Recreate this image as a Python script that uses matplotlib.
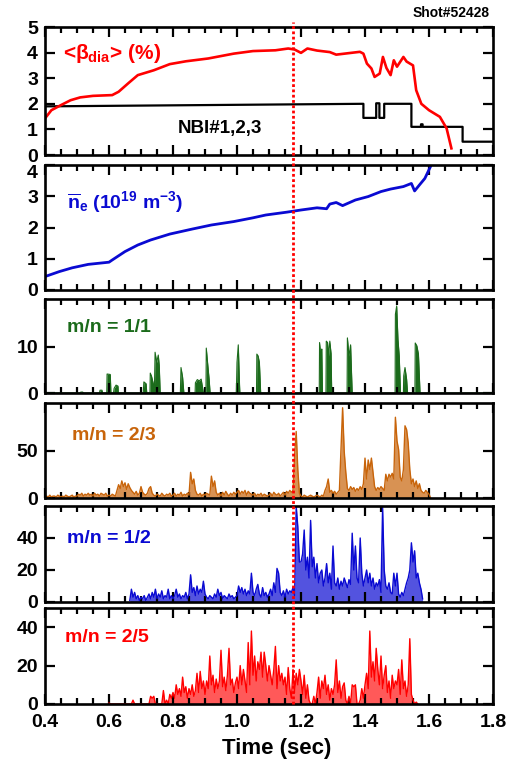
import numpy as np
import matplotlib
matplotlib.use('Agg')
import matplotlib.pyplot as plt
from matplotlib.lines import Line2D
from matplotlib.ticker import MultipleLocator
import matplotlib.transforms as mtransforms

plt.rcParams['font.family'] = ['Liberation Sans', 'DejaVu Sans']
plt.rcParams['font.weight'] = 'bold'
plt.rcParams['mathtext.fontset'] = 'custom'
for k in ['rm', 'it', 'bf', 'sf']:
    plt.rcParams['mathtext.' + k] = 'Liberation Sans:bold'

T_MARK = 1.175

# --- panel 1: diamagnetic beta and NBI power
t_beta = [0.40, 0.42, 0.45, 0.48, 0.51, 0.55, 0.61, 0.63, 0.66, 0.69, 0.74, 0.79, 0.84, 0.91, 0.99,
          1.05, 1.12, 1.16, 1.18, 1.20, 1.22, 1.25, 1.29, 1.31, 1.35, 1.384, 1.395, 1.406, 1.42, 1.43,
          1.446, 1.456, 1.467, 1.48, 1.49, 1.50, 1.52, 1.53, 1.55, 1.56, 1.576, 1.60, 1.634, 1.655, 1.67]
beta = [1.43, 1.75, 1.95, 2.14, 2.25, 2.31, 2.34, 2.47, 2.80, 3.12, 3.31, 3.55, 3.66, 3.77, 3.96,
        4.06, 4.09, 4.16, 4.12, 3.99, 4.16, 4.08, 4.02, 3.92, 3.98, 4.03, 3.96, 3.57, 3.38, 3.05,
        3.18, 3.83, 3.40, 3.12, 3.70, 3.45, 3.83, 3.65, 3.50, 2.53, 2.00, 1.75, 1.49, 1.04, 0.26]
t_nbi = [0.40, 1.395, 1.395, 1.435, 1.435, 1.445, 1.445, 1.46, 1.46, 1.545, 1.545,
         1.575, 1.575, 1.58, 1.58, 1.705, 1.705, 1.80]
nbi = [1.90, 2.00, 1.45, 1.45, 2.02, 2.02, 1.45, 1.45, 2.00, 2.00, 1.10,
       1.10, 1.20, 1.20, 1.10, 1.10, 0.52, 0.52]

# --- panel 2: line-averaged density
t_ne = [0.40, 0.445, 0.485, 0.535, 0.60, 0.61, 0.65, 0.69, 0.73, 0.79, 0.86, 0.92, 0.99, 1.05,
        1.09, 1.155, 1.20, 1.25, 1.28, 1.29, 1.31, 1.33, 1.37, 1.41, 1.45, 1.48, 1.52, 1.545,
        1.555, 1.57, 1.587, 1.608]
ne = [0.43, 0.59, 0.71, 0.82, 0.89, 0.96, 1.23, 1.44, 1.60, 1.79, 1.95, 2.08, 2.19, 2.31,
      2.40, 2.49, 2.56, 2.63, 2.60, 2.75, 2.80, 2.70, 2.88, 2.99, 3.15, 3.23, 3.31, 3.41,
      3.17, 3.36, 3.57, 4.02]

# --- panel 3: m/n = 1/1 bursts
t11 = [0.400, 0.509, 0.512, 0.518, 0.520, 0.570, 0.572, 0.578, 0.580, 0.593, 0.594, 0.604, 0.606,
       0.614, 0.616, 0.622, 0.628, 0.629, 0.707, 0.709, 0.716, 0.718, 0.728, 0.729, 0.733, 0.742,
       0.744, 0.749, 0.754, 0.757, 0.760, 0.823, 0.825, 0.830, 0.834, 0.869, 0.870, 0.876, 0.882,
       0.888, 0.895, 0.903, 0.904, 0.908, 0.913, 0.916, 0.998, 1.000, 1.004, 1.008, 1.009, 1.061,
       1.062, 1.066, 1.070, 1.074, 1.257, 1.258, 1.262, 1.265, 1.267, 1.278, 1.279, 1.283, 1.286,
       1.290, 1.294, 1.296, 1.344, 1.345, 1.350, 1.355, 1.360, 1.494, 1.495, 1.499, 1.503, 1.507,
       1.511, 1.520, 1.521, 1.525, 1.530, 1.533, 1.556, 1.557, 1.562, 1.567, 1.572, 1.800]
m11 = [0.0, 0.0, 0.2, 0.2, 0.0, 0.0, 0.6, 0.6, 0.0, 0.0, 4.1, 4.0, 0.0,
       0.0, 1.0, 1.7, 1.5, 0.0, 0.0, 2.4, 2.0, 0.0, 0.0, 4.3, 3.6, 1.0,
       8.8, 6.6, 8.2, 6.0, 0.0, 0.0, 5.5, 3.4, 0.0, 0.0, 2.2, 2.9, 2.6,
       3.0, 0.0, 0.0, 9.7, 6.6, 2.9, 0.0, 0.0, 6.6, 10.4, 1.6, 0.0, 0.0,
       8.4, 8.0, 6.6, 0.0, 0.0, 10.9, 8.1, 9.5, 0.0, 0.0, 11.2, 10.9, 8.0,
       11.2, 8.5, 0.0, 0.0, 11.9, 8.0, 10.4, 0.0, 0.0, 17.0, 18.8, 11.6, 8.0,
       0.0, 0.0, 3.7, 5.5, 3.0, 0.0, 0.0, 10.8, 10.2, 8.4, 0.0, 0.0]

# --- panel 4: m/n = 2/3, sampled every 5 ms from 0.400 s
T23_START = 0.400
m23 = [1, 2, 1, 3, 1, 2, 2, 1, 3, 2, 1, 2, 1, 3, 2, 1, 2, 3, 1, 2,
       2, 4, 3, 5, 2, 4, 3, 5, 3, 4, 2, 5, 3, 4, 2, 5, 4, 3, 5, 2,
       3, 2, 4, 3, 2, 8, 14, 10, 18, 12, 16, 9, 15, 11, 8, 6, 4, 7, 3, 5,
       12, 6, 4, 3, 5, 10, 12, 5, 3, 2, 4, 3, 2, 5, 3, 2, 4, 3, 5, 2,
       3, 5, 2, 4, 3, 6, 2, 4, 3, 5, 3, 27, 15, 20, 8, 4, 3, 5, 2, 4,
       3, 5, 4, 3, 23, 12, 18, 6, 3, 5, 2, 6, 3, 7, 4, 2, 5, 3, 6, 4,
       6, 8, 4, 7, 5, 8, 3, 7, 5, 4, 3, 5, 2, 4, 3, 5, 2, 4, 3, 2,
       3, 5, 2, 6, 4, 3, 5, 2, 4, 6, 3, 7, 5, 8, 6, 8, 45, 70, 30, 5,
       2, 1, 3, 2, 1, 2, 3, 2, 1, 2, 3, 2, 1, 3, 2, 8, 12, 20, 6, 8,
       5, 7, 4, 6, 8, 51, 95, 49, 27, 10, 8, 12, 9, 11, 7, 10, 8, 12, 9, 15,
       42, 20, 40, 30, 42, 27, 12, 8, 11, 9, 12, 10, 8, 25, 18, 25, 22, 26, 20, 85,
       60, 51, 22, 18, 30, 76, 72, 58, 30, 15, 20, 12, 18, 10, 15, 8, 6, 5, 8, 6,
       4, 0]

# --- panel 5: m/n = 1/2, sampled every 5 ms from 0.665 s
T12_START = 0.665
m12 = [1, 8, 3, 6, 2, 4, 1,
       3, 2, 4, 1, 3, 5, 2, 6, 3, 8, 2, 5, 3, 7, 2, 4, 3, 8, 2, 4,
       2, 4, 8, 3, 5, 2, 4, 3, 6, 2, 5, 17, 6, 9, 4, 10, 5, 8, 6, 13,
       5, 3, 2, 4, 3, 2, 5, 3, 8, 4, 6, 2, 4, 3, 2, 5, 3, 4, 2, 3,
       4, 10, 6, 9, 5, 8, 4, 7, 5, 18, 6, 4, 8, 11, 5, 3, 9, 4, 6, 3,
       5, 8, 4, 12, 6, 21, 18, 6, 4, 7, 3, 8, 5, 7, 6, 9, 4, 60, 47, 25,
       25, 30, 45, 20, 28, 15, 51, 22, 28, 15, 24, 12, 18, 20, 10, 15, 24, 12, 18, 8,
       35, 12, 10, 15, 8, 13, 10, 15, 12, 9, 14, 11, 43, 20, 35, 15, 12, 40, 18, 10,
       15, 20, 12, 18, 10, 15, 8, 12, 10, 14, 6, 59, 20, 10, 8, 12, 6, 5, 18, 10,
       18, 5, 3, 6, 4, 8, 12, 15, 20, 37, 25, 32, 15, 18, 12, 8, 2]

# --- panel 6: m/n = 2/5, sampled every 5 ms from 0.600 s
T25_START = 0.600
m25 = [0.5, 0, 0, 0, 0, 0, 0, 0, 0, 0, 0, 0, 0, 0, 0, 2, 0, 0, 0, 0,
       0, 0, 0, 0, 0, 0, 4, 3, 4, 0, 0, 0, 0, 0, 7, 0, 2, 0, 5, 3,
       6, 3, 10, 5, 8, 4, 14, 6, 9, 3, 8, 5, 10, 4, 7, 16, 6, 17, 8, 12,
       5, 12, 8, 25, 10, 15, 6, 13, 8, 12, 28, 9, 14, 7, 15, 29, 10, 13, 6, 11,
       14, 8, 20, 10, 18, 12, 6, 32, 10, 38, 15, 25, 12, 22, 18, 27, 14, 27, 20, 12,
       20, 15, 10, 18, 30, 8, 20, 12, 16, 10, 14, 5, 19, 8, 3, 18, 6, 16, 10, 18,
       12, 5, 15, 3, 10, 2, 0, 0, 4, 0, 6, 14, 3, 12, 8, 15, 5, 10, 2, 8,
       5, 10, 23, 6, 12, 3, 9, 11, 2, 0, 4, 0, 10, 9, 10, 0, 0, 2, 8, 3,
       10, 16, 8, 38, 14, 22, 12, 29, 18, 10, 25, 8, 15, 20, 6, 12, 3, 15, 8, 12,
       10, 18, 5, 23, 8, 12, 4, 10, 34, 5, 2, 0, 1, 0]
DT = 0.005

C_GREEN = '#1b6b1b'
C_ORANGE = '#c8640a'
C_BLUE = '#0a0ad2'
C_RED = '#ff0000'

fig = plt.figure(figsize=(5.15, 7.6), dpi=100)
W, H = 515.0, 760.0
left, width = 45 / W, 448 / W
# (top px, bottom px) of each panel
rows = [(27, 155), (165, 290), (299, 393), (403, 498), (506, 602), (608, 704)]
axes = [fig.add_axes([left, 1 - b / H, width, (b - t) / H]) for t, b in rows]

for ax in axes:
    ax.set_xlim(0.4, 1.8)
    ax.xaxis.set_major_locator(MultipleLocator(0.2))
    ax.xaxis.set_minor_locator(MultipleLocator(0.05))
    ax.tick_params(which='both', direction='in', top=True, right=True, labelsize=14)
    ax.tick_params(axis='y', pad=5)
    ax.tick_params(axis='x', pad=7)
    ax.tick_params(which='major', length=7, width=1.6)
    ax.tick_params(which='minor', length=4.5, width=1.6)
    for s in ax.spines.values():
        s.set_linewidth(1.9)
    if ax is not axes[-1]:
        ax.tick_params(labelbottom=False)

ax1, ax2, ax3, ax4, ax5, ax6 = axes

ax1.plot(t_nbi, nbi, color='black', lw=1.6)
ax1.plot(t_beta, beta, color=C_RED, lw=1.9)
ax1.set_ylim(0, 5)
ax1.set_yticks(range(6))
ax1.text(0.04, 0.79, r'<$\beta_{\rm dia}$> (%)', color=C_RED, fontsize=15, transform=ax1.transAxes, va='center')
ax1.text(0.297, 0.21, 'NBI#1,2,3', color='black', fontsize=13.5, transform=ax1.transAxes, va='center')

ax2.plot(t_ne, ne, color=C_BLUE, lw=2.0)
ax2.set_ylim(0, 4)
ax2.set_yticks(range(5))
ax2.get_yticklabels()[-1].set_verticalalignment('top')
ax2.text(0.05, 0.70, r'$\overline{n}_{e}$ (10$^{19}$ m$^{-3}$)', color=C_BLUE, fontsize=14,
         transform=ax2.transAxes, va='center')

ax3.fill_between(t11, 0, m11, color=C_GREEN, lw=0)
ax3.plot(t11, m11, color=C_GREEN, lw=0.8)
ax3.set_ylim(0, 20.3)
ax3.set_yticks([0, 10])
ax3.text(0.05, 0.70, 'm/n = 1/1', color=C_GREEN, fontsize=14, transform=ax3.transAxes, va='center')

t23 = T23_START + DT * np.arange(len(m23))
ax4.fill_between(t23, 0, m23, color=C_ORANGE, alpha=0.7, lw=0)
ax4.plot(t23, m23, color=C_ORANGE, lw=1.0)
ax4.set_ylim(0, 100)
ax4.set_yticks([0, 50])
ax4.text(0.06, 0.66, 'm/n = 2/3', color=C_ORANGE, fontsize=14, transform=ax4.transAxes, va='center')

t12 = T12_START + DT * np.arange(len(m12))
ax5.fill_between(t12, 0, m12, color=C_BLUE, alpha=0.7, lw=0)
ax5.plot(t12, m12, color=C_BLUE, lw=1.0)
ax5.set_ylim(0, 60)
ax5.set_yticks([0, 20, 40])
ax5.text(0.05, 0.66, 'm/n = 1/2', color=C_BLUE, fontsize=14, transform=ax5.transAxes, va='center')

t25 = T25_START + DT * np.arange(len(m25))
ax6.fill_between(t25, 0, m25, color=C_RED, alpha=0.65, lw=0)
ax6.plot(t25, m25, color=C_RED, lw=1.0)
ax6.set_ylim(0, 50)
ax6.set_yticks([0, 20, 40])
ax6.text(0.045, 0.69, 'm/n = 2/5', color=C_RED, fontsize=14, transform=ax6.transAxes, va='center')
ax6.set_xlabel('Time (sec)', fontsize=16, fontweight='bold')
ax6.xaxis.set_label_coords(0.518, -0.35)

# dotted marker through all panels
trans = mtransforms.blended_transform_factory(ax6.transData, fig.transFigure)
fig.add_artist(Line2D([T_MARK, T_MARK], [1 - 704 / H, 1 - 22 / H], transform=trans,
                      color=C_RED, lw=2.0, linestyle=(0, (1, 0.9)), zorder=5))

fig.text(490 / W, 1 - 13 / H, 'Shot#52428', fontsize=10, ha='right', va='center')

fig.savefig('out.png', dpi=100)
